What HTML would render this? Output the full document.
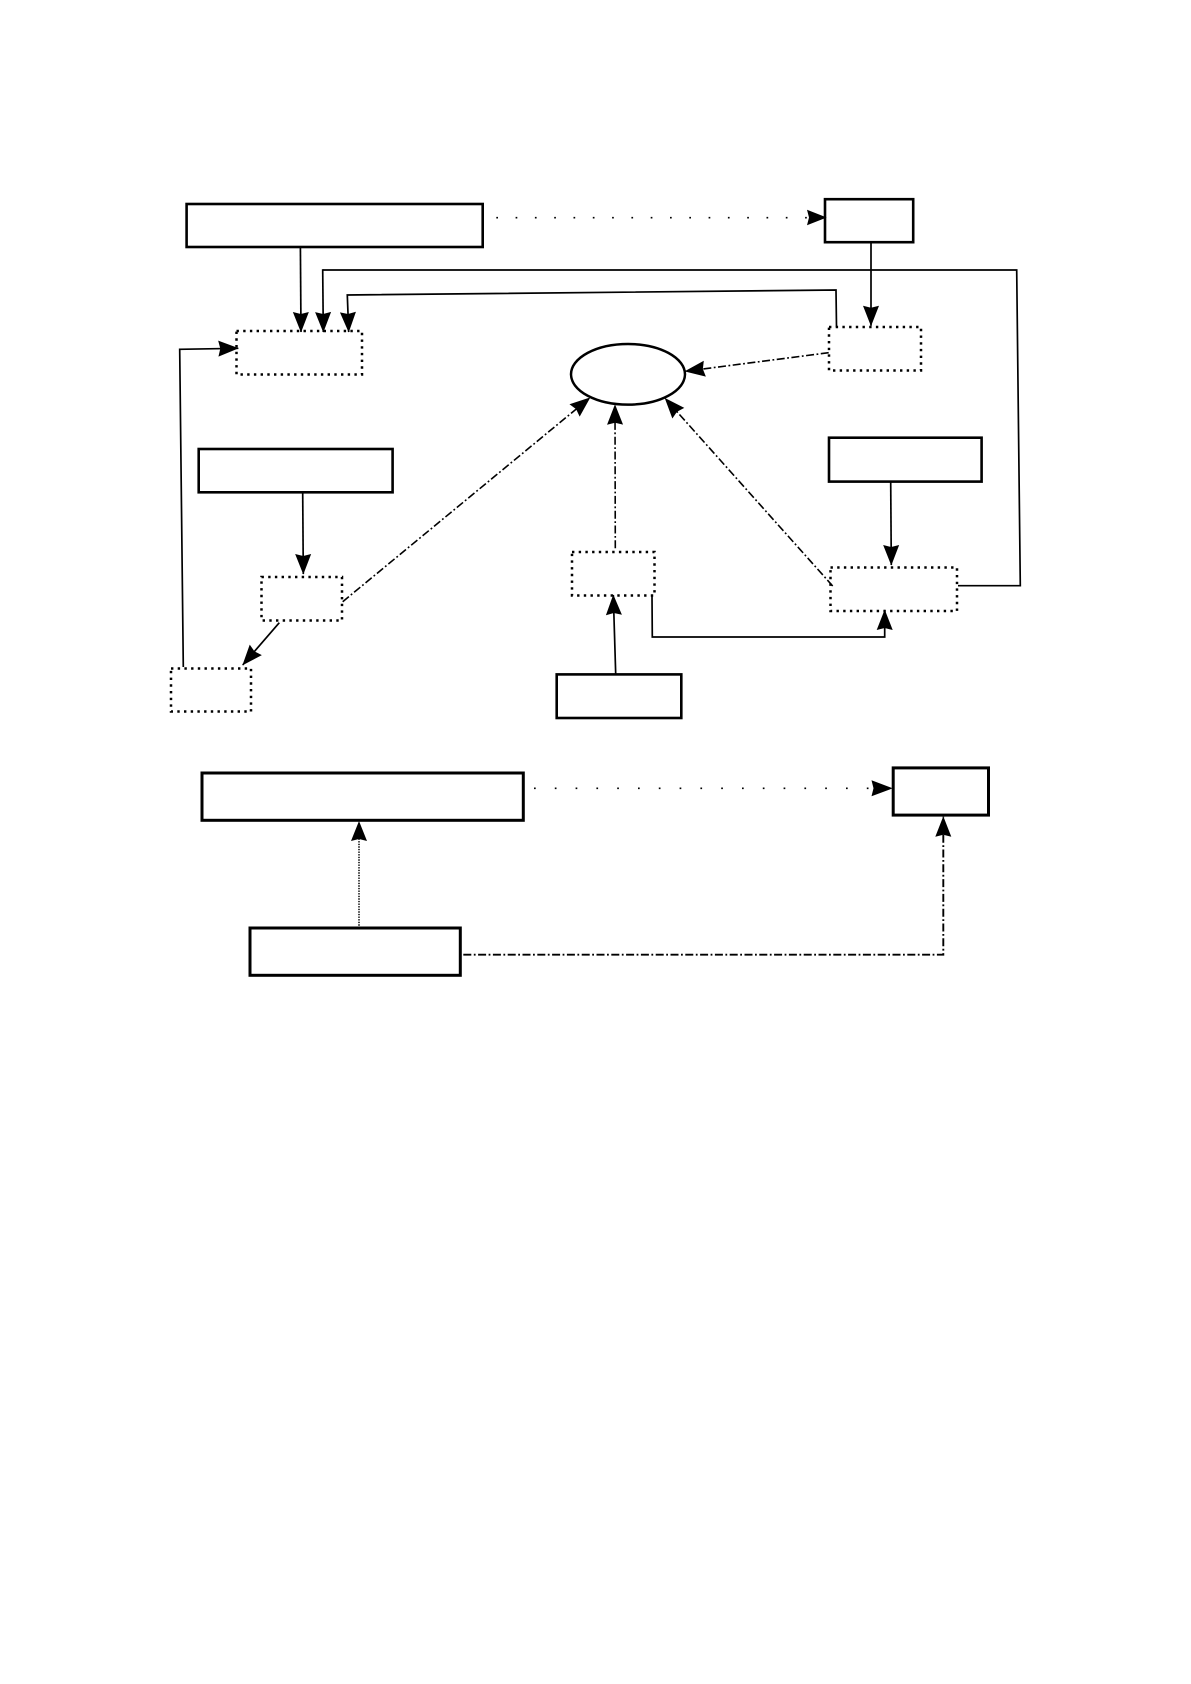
<!DOCTYPE html>
<html>
<head>
<meta charset="utf-8">
<title>Diagram</title>
<style>
html,body{margin:0;padding:0;background:#fff;width:1191px;height:1684px;overflow:hidden}
svg{display:block}
.b{fill:#fff;stroke:#000;stroke-width:2.6}
.b2{fill:#fff;stroke:#000;stroke-width:3}
.d{fill:none;stroke:#000;stroke-width:2.5;stroke-dasharray:2.4 4.3}
.l{fill:none;stroke:#000;stroke-width:1.7;marker-end:url(#a)}
.n{fill:none;stroke:#000;stroke-width:1.7}
.dd{fill:none;stroke:#000;stroke-width:1.6;stroke-dasharray:8 2.5 1.8 2.5;marker-end:url(#a)}
</style>
</head>
<body>
<svg xmlns="http://www.w3.org/2000/svg" width="1191" height="1684" viewBox="0 0 1191 1684">
<defs>
<marker id="a" markerUnits="userSpaceOnUse" viewBox="-22 -9 23 18" refX="0" refY="0" markerWidth="23" markerHeight="18" orient="auto">
<path d="M0.5,0 L-20,-8 L-18,0 L-20,8 Z" fill="#000"/>
</marker>
</defs>

<!-- solid boxes -->
<rect class="b" x="186.6" y="204" width="296.1" height="43"/>
<rect class="b" x="825" y="199.2" width="88.2" height="43"/>
<rect class="b" x="198.7" y="449" width="193.9" height="43.3"/>
<rect class="b" x="829" y="437.7" width="152.6" height="43.9"/>
<rect class="b" x="556.7" y="674.4" width="124.6" height="43.6"/>
<rect class="b2" x="202" y="773" width="321.3" height="47.3"/>
<rect class="b2" x="250" y="928" width="210.3" height="47.3"/>
<rect class="b2" x="893.2" y="767.9" width="95.3" height="47.2"/>

<!-- ellipse -->
<ellipse cx="628" cy="374.3" rx="57" ry="30.3" fill="#fff" stroke="#000" stroke-width="2.5"/>

<!-- dotted boxes -->
<rect class="d" x="236.5" y="331" width="125.5" height="43.5"/>
<rect class="d" x="829" y="327" width="92" height="43.5"/>
<rect class="d" x="261.5" y="577" width="80.5" height="43.5"/>
<rect class="d" x="171" y="668.5" width="80" height="43"/>
<rect class="d" x="572" y="552" width="82.5" height="43.5"/>
<rect class="d" x="830.5" y="567.5" width="126.5" height="43.5"/>

<!-- solid connectors -->
<path class="l" d="M300.4,248 L301,332"/>
<path class="n" d="M322.7,270 L1016.7,270 L1020.3,585.7 L958,585.7"/>
<path class="l" d="M322.7,269.2 L323.3,332"/>
<path class="l" d="M836.5,326.7 L836,290 L347.3,295 L348.7,332"/>
<path class="l" d="M183.3,667 L179.7,349.3 L238.3,348.3"/>
<path class="l" d="M871,243 L871,325.7"/>
<path class="l" d="M302.7,493 L303.3,574"/>
<path class="l" d="M279.3,622.7 L242.7,665"/>
<path class="l" d="M890.7,482 L891.3,565"/>
<path class="l" d="M615.7,674 L613.3,595"/>
<path class="l" d="M652,595.7 L652.3,637 L884.7,637 L884.7,610"/>

<!-- dash-dot connectors -->
<path class="dd" d="M828.7,352.7 L685,371.3"/>
<path class="dd" d="M342.7,601.7 L590,397.7"/>
<path class="dd" d="M615.3,548.3 L615,404.7"/>
<path class="dd" d="M832.7,586 L665,398.3"/>
<path class="dd" d="M463.3,954.7 L943.3,954.7 L943.3,816.7" style="stroke-width:1.9"/>

<!-- sparse dotted connectors -->
<path class="n" d="M496.3,217.7 L808,217.7" style="stroke-dasharray:1.7 17.6"/>
<path d="M826.7,217.5 L807,209.7 L809,217.5 L807,225.3 Z" fill="#000"/>
<path class="n" d="M534,788.3 L870,788.3" style="stroke-dasharray:1.7 19.1"/>
<path d="M892.7,788.3 L871.5,780.3 L873.5,788.3 L871.5,796.3 Z" fill="#000"/>

<!-- fine dotted connector -->
<path class="n" d="M359,925.7 L359,838" style="stroke-dasharray:1.4 1.2;stroke-width:1.5"/>
<path d="M359,821 L351,841 L359,839 L367,841 Z" fill="#000"/>
</svg>
</body>
</html>
